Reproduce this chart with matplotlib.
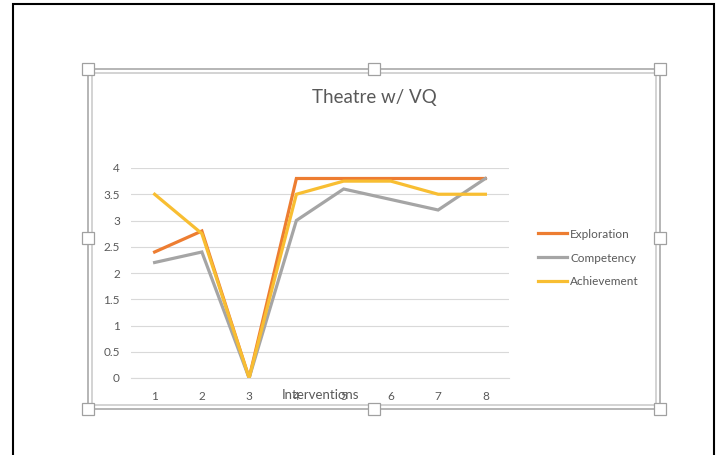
import numpy as np
import matplotlib.pyplot as plt
from matplotlib.patches import Rectangle

W, H = 727, 455

categories = ['1', '2', '3', '4', '5', '6', '7', '8']
exploration = [2.4, 2.8, 0, 3.8, 3.8, 3.8, 3.8, 3.8]
competency = [2.2, 2.4, 0, 3.0, 3.6, 3.4, 3.2, 3.8]
achievement = [3.5, 2.75, 0, 3.5, 3.75, 3.75, 3.5, 3.5]
series = [('Exploration', exploration, '#ED7D31'),
          ('Competency', competency, '#A5A5A5'),
          ('Achievement', achievement, '#F8BE32')]
yticks = [0, 0.5, 1, 1.5, 2, 2.5, 3, 3.5, 4]

plt.rcParams['font.family'] = ['Lato', 'DejaVu Sans']


def fx(px):
    return px / W


def fy(py):
    return 1 - py / H


fig = plt.figure(figsize=(W / 100, H / 100), dpi=100)

# outer black frame of the screenshot
fig.add_artist(Rectangle((fx(13), fy(470)), fx(714) - fx(13), fy(4) - fy(470),
                         transform=fig.transFigure, fill=False,
                         edgecolor='black', lw=1.5))

# selection frame around the chart (double line)
for off, col in [(0, '#B0B0B0'), (4, '#D0D0D0')]:
    fig.add_artist(Rectangle((fx(88 + off), fy(409 - off)),
                             fx(660 - off) - fx(88 + off),
                             fy(69 + off) - fy(409 - off),
                             transform=fig.transFigure, fill=False,
                             edgecolor=col, lw=1.3))

ax = fig.add_axes([fx(131), fy(378), fx(509) - fx(131), fy(168) - fy(378)])
x = np.arange(len(categories))
for name, vals, col in series:
    ax.plot(x, vals, color=col, lw=2.3, label=name, solid_joinstyle='miter')

ax.set_xlim(-0.5, len(categories) - 0.5)
ax.set_ylim(0, 4)
ax.set_yticks(yticks)
ax.set_yticklabels(['0', '0.5', '1', '1.5', '2', '2.5', '3', '3.5', '4'])
ax.set_xticks(x)
ax.set_xticklabels(categories)
ax.grid(axis='y', color='#D9D9D9', lw=0.8)
ax.set_axisbelow(True)
for s in ['top', 'right', 'left']:
    ax.spines[s].set_visible(False)
ax.spines['bottom'].set_color('#D9D9D9')
ax.tick_params(length=0, labelsize=8.5, labelcolor='#595959', pad=9)
ax.tick_params(axis='y', pad=8)
ax.set_xlabel('Interventions', fontsize=9.5, color='#595959', va='center')
ax.xaxis.set_label_coords(0.5, -17 / 210)

fig.text(fx(374), fy(97), 'Theatre w/ VQ', fontsize=13.5, color='#595959',
         ha='center', va='center')

leg = ax.legend(loc='center left', bbox_to_anchor=(fx(533), fy(258)),
                bbox_transform=fig.transFigure, frameon=False,
                fontsize=8.5, handlelength=2.45, handletextpad=0.3,
                labelspacing=1.1, borderaxespad=0)
for t in leg.get_texts():
    t.set_color('#595959')

# selection handles
for hx in (88, 374, 660):
    for hy in (69, 238, 409):
        if hx == 374 and hy == 238:
            continue
        fig.add_artist(Rectangle((fx(hx - 6), fy(hy + 6)), fx(12), 12 / H,
                                 transform=fig.transFigure,
                                 facecolor='white', edgecolor='#A0A0A0',
                                 lw=0.9, zorder=5))

fig.savefig('out.png', dpi=100)
